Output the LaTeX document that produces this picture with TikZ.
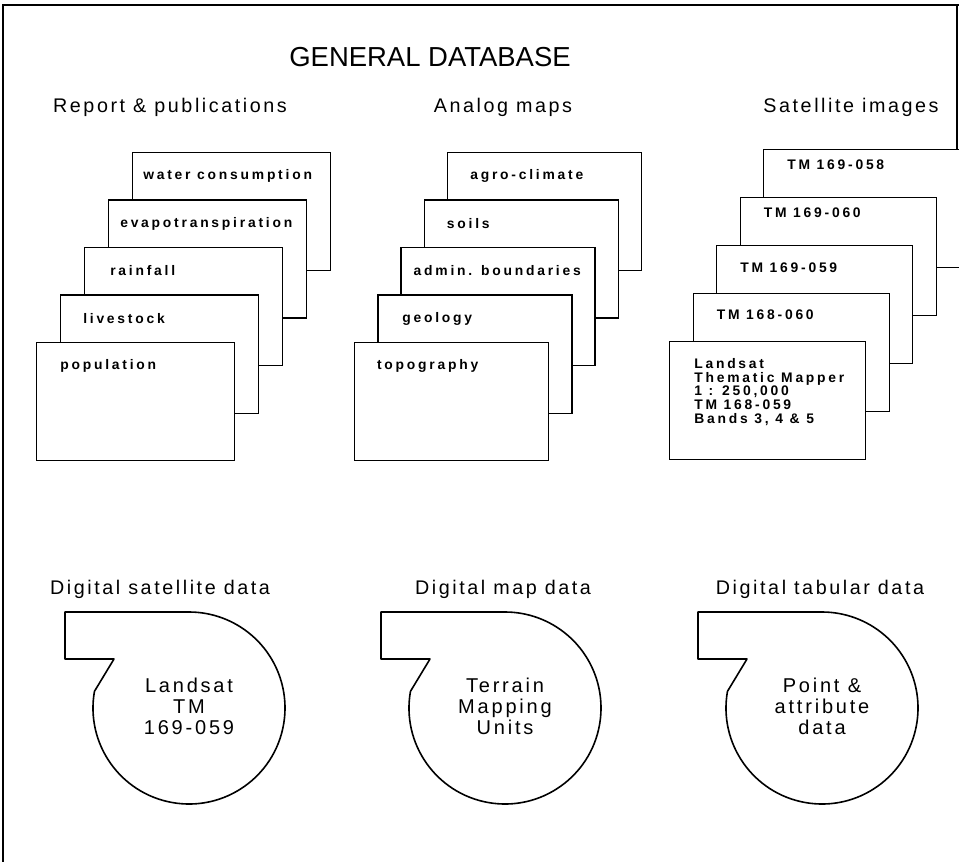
\documentclass[tikz,border=0pt]{standalone}
\usepackage{fontspec}
\setmainfont{Liberation Sans}
\usepackage{tikz}
\usetikzlibrary{positioning}
\usetikzlibrary{calc}
\newfontfamily\headfont[LetterSpace=13]{Liberation Sans}
\newfontfamily\cardfont[LetterSpace=20]{Liberation Sans}
\newfontfamily\tapefont[LetterSpace=14]{Liberation Sans}
\tikzset{card/.style = {draw, fill = white, line width = 1.1pt, anchor = north west, inner sep = 0,
    minimum width = #1, minimum height = 88.5pt}, card/.default = 147pt}
\tikzset{cardtext/.style = {anchor = west, inner sep = 0, font = \cardfont\bfseries\fontsize{10.4pt}{10.3pt}\selectfont}}
\tikzset{head/.style = {inner sep = 0, font = \headfont\fontsize{14.8pt}{16pt}\selectfont}}
\tikzset{tape/.style = {draw, line width = 1.2pt, line join = round}}
\tikzset{tapetext/.style = {align = center, inner sep = 0, font = \tapefont\fontsize{15pt}{15.75pt}\selectfont}}

\begin{document}
\begin{tikzpicture}[x = 0.75pt, y = -0.75pt]
      \useasboundingbox (0, 0) rectangle (959, 862);
      \clip (0, 0) rectangle (959, 862);
      % frame
      \draw [line width = 1.3pt] (3, 862) -- (3, 5) -- (959, 5);
      \draw [line width = 0.8pt] (957, 5) -- (957, 245);
      \node [inner sep = 0, font = \fontsize{20.6pt}{24pt}\selectfont] (db) at (430, 57) {GENERAL DATABASE};
      % headings
      \node [head] (rephead) at (170, 107) {Report \& publications};
      \node [head] (anahead) at (503, 107) {Analog maps};
      \node [head] (sathead) at (851, 107) {Satellite images};
      \node [head] (dsathead) at (160, 589) {Digital satellite data};
      \node [head] (dmaphead) at (503, 589) {Digital map data};
      \node [head] (dtabhead) at (820, 589) {Digital tabular data};
      % report stack
      \foreach \i/\txt/\tx in {0/water consumption/11, 1/evapotranspiration/12, 2/rainfall/26, 3/livestock/23, 4/population/24} {
        \node [card = 148.5pt] (rep\i) at ({132 - 24*\i}, {152 + 47.5*\i}) {};
        \node [cardtext] (rept\i) at ($(rep\i.north west) + (\tx, 24)$) {\txt};
      }
      % analog map stack
      \foreach \i/\txt/\tx in {0/agro-climate/23, 1/soils/23, 2/admin. boundaries/13, 3/geology/25, 4/topography/23} {
        \node [card = 145.5pt] (ana\i) at ({447 - 23.3*\i}, {152 + 47.5*\i}) {};
        \node [cardtext] (anat\i) at ($(ana\i.north west) + (\tx, 24)$) {\txt};
      }
      % satellite stack
      \foreach \i/\txt/\ty in {0/TM 169-058/16, 1/TM 169-060/16, 2/TM 169-059/23, 3/TM 168-060/22} {
        \node [card] (sat\i) at ({763 - 23.5*\i}, {149 + 48*\i}) {};
        \node [cardtext] (satt\i) at ($(sat\i.north west) + (24, \ty)$) {\txt};
      }
      \node [card] (sat4) at (669, 341) {};
      \node [cardtext, anchor = north west, align = left] (satt4) at ($(sat4.north west) + (25, 17)$)
        {Landsat\\Thematic Mapper\\1 : 250,000\\TM 168-059\\Bands 3, 4 \& 5};
      % tapes
      \foreach \name/\cx/\txt in {tsat/189/{Landsat\\TM\\169-059}, tmap/505/{Terrain\\Mapping\\Units}, ttab/822/{Point \&\\attribute\\data}} {
        \draw [tape] ({\cx - 75}, 659) -- ({\cx + 96*cos(190)}, {708 + 96*sin(190)})
          arc [start angle = 190, end angle = -90, radius = 96] -- ({\cx - 124}, 612) -- ({\cx - 124}, 659) -- cycle;
        \node [tapetext] (\name) at (\cx, 706) {\txt};
      }
    \end{tikzpicture}
\end{document}
